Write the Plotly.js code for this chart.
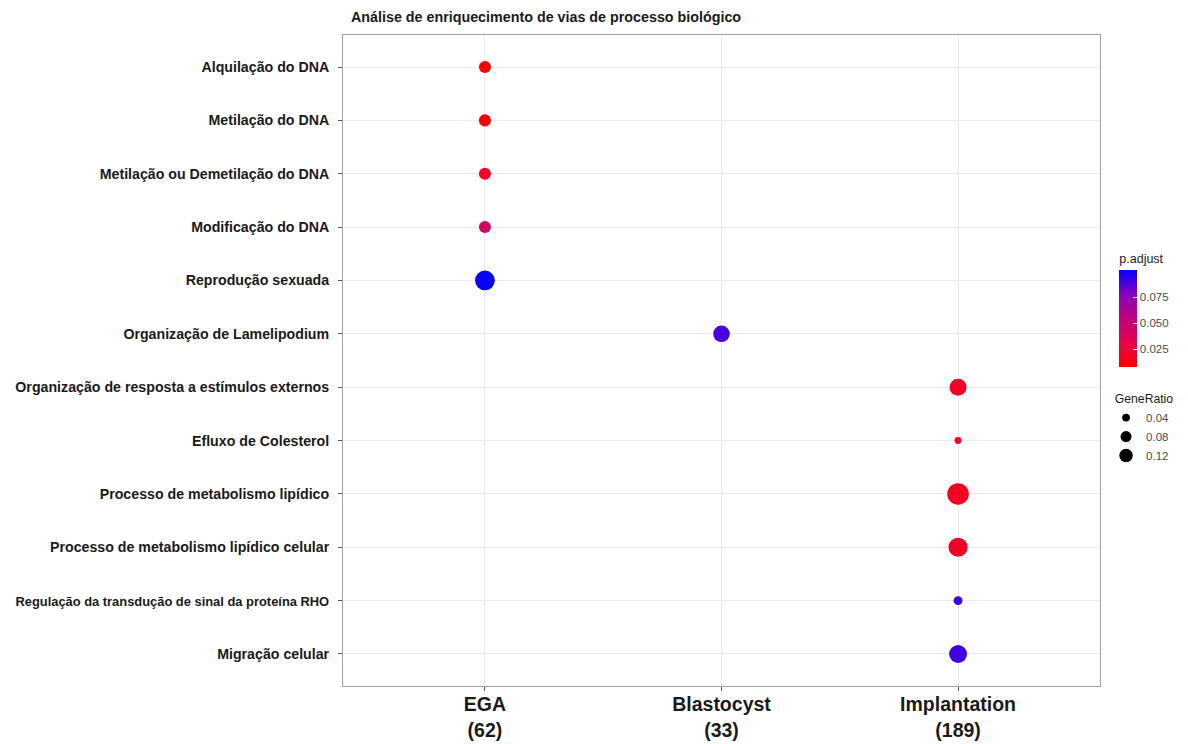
<!DOCTYPE html>
<html>
<head>
<meta charset="utf-8">
<script src="https://cdn.plot.ly/plotly-3.0.1.min.js"></script>
<style>html,body{margin:0;padding:0;background:#fff;}#chart{width:1188px;height:744px;}</style>
</head>
<body>
<div id="chart"></div>
<script>
// Stage categories (x axis)
const stages = ["EGA", "Blastocyst", "Implantation"];
const stageLabels = ["EGA<br>(62)", "Blastocyst<br>(33)", "Implantation<br>(189)"];

// Pathway terms (y axis, top to bottom)
const terms = [
  "Alquilação do DNA",
  "Metilação do DNA",
  "Metilação ou Demetilação do DNA",
  "Modificação do DNA",
  "Reprodução sexuada",
  "Organização de Lamelipodium",
  "Organização de resposta a estímulos externos",
  "Efluxo de Colesterol",
  "Processo de metabolismo lipídico",
  "Processo de metabolismo lipídico celular",
  "Regulação da transdução de sinal da proteína RHO",
  "Migração celular"
];

// Each point: stage, term, GeneRatio, p.adjust
const pointStage = ["EGA","EGA","EGA","EGA","EGA","Blastocyst","Implantation","Implantation","Implantation","Implantation","Implantation","Implantation"];
const pointTerm = terms.slice();
const geneRatio = [0.048, 0.048, 0.048, 0.048, 0.129, 0.091, 0.095, 0.016, 0.153, 0.122, 0.026, 0.106];
const pAdjust  = [0.008, 0.009, 0.020, 0.040, 0.100, 0.089, 0.018, 0.020, 0.018, 0.019, 0.091, 0.090];

// Size legend entries
const sizeLegendRatios = [0.04, 0.08, 0.12];
const colorTicks = [0.025, 0.050, 0.075];

const SIZEREF = 0.08 / 121; // diameter 11px at 0.08
const diam = v => Math.sqrt(v / SIZEREF);

const xIndex = pointStage.map(s => stages.indexOf(s));
const yIndex = pointTerm.map(t => terms.indexOf(t));

const FONT = 'Liberation Sans, Arial, sans-serif';

const colorscale = [
  [0, '#ff0000'], [0.25, '#e6004c'], [0.5, '#c0007f'], [0.75, '#8a00c0'], [1, '#0000ff']
];

const traces = [{
  type: 'scatter', mode: 'markers',
  x: xIndex, y: yIndex,
  showlegend: false,
  hoverinfo: 'skip',
  marker: {
    size: geneRatio, sizemode: 'area', sizeref: SIZEREF, sizemin: 1,
    opacity: 1,
    color: pAdjust, cmin: 0.0077, cmax: 0.101,
    colorscale: colorscale,
    line: {width: 0},
    colorbar: {
      title: {text: 'p.adjust', side: 'top', font: {family: FONT, size: 12.5, color: '#1a1a1a'}},
      thickness: 18, len: 116, lenmode: 'pixels',
      x: 1.0255, xanchor: 'left', y: 0.49, yanchor: 'bottom',
      xpad: 0, ypad: 0, outlinewidth: 0,
      tickvals: colorTicks, ticktext: colorTicks.map(v => v.toFixed(3)),
      ticks: 'inside', ticklen: 4, tickcolor: '#ffffff', tickwidth: 1,
      tickfont: {family: FONT, size: 11.5, color: '#4d4d4d'}
    }
  }
}];

sizeLegendRatios.forEach((r) => {
  traces.push({
    type: 'scatter', mode: 'markers',
    x: [null], y: [null],
    name: String(r),
    showlegend: true,
    marker: {size: diam(r), color: '#000000', line: {width: 0}}
  });
});

const tickText = terms.map(t => t.startsWith('Regulação') ? '<span style="font-size:12.9px">' + t + '</span>' : t);

const layout = {
  width: 1188, height: 744,
  paper_bgcolor: '#ffffff', plot_bgcolor: '#ffffff',
  margin: {l: 343, r: 88, t: 35, b: 58},
  font: {family: FONT, color: '#1a1a1a'},
  title: {
    text: '<b>Análise de enriquecimento de vias de processo biológico</b>',
    x: 351 / 1188, xanchor: 'left', xref: 'container',
    y: 1 - 17 / 744, yanchor: 'middle', yref: 'container',
    font: {family: FONT, size: 14.3, color: '#1a1a1a'}
  },
  xaxis: {
    range: [-0.6, 2.6],
    tickvals: stages.map((s, i) => i), ticktext: stageLabels.map(s => '<b>' + s + '</b>'),
    tickfont: {size: 19.5, color: '#1a1a1a', family: FONT},
    showgrid: true, gridcolor: '#ebebeb', gridwidth: 1,
    zeroline: false,
    showline: true, linecolor: '#a0a0a0', linewidth: 1, mirror: true,
    ticks: 'outside', ticklen: 4, tickcolor: '#555555',
    ticklabelstandoff: -3,
    fixedrange: true
  },
  yaxis: {
    range: [11.6, -0.6],
    tickvals: terms.map((t, i) => i), ticktext: tickText.map(t => '<b>' + t + '</b>'),
    tickfont: {size: 14.2, color: '#1a1a1a', family: FONT},
    showgrid: true, gridcolor: '#ebebeb', gridwidth: 1,
    zeroline: false,
    showline: true, linecolor: '#a0a0a0', linewidth: 1, mirror: true,
    ticks: 'outside', ticklen: 4, tickcolor: '#555555',
    ticklabelstandoff: 6,
    fixedrange: true
  },
  legend: {
    title: {text: '&nbsp;&nbsp;GeneRatio', font: {size: 12.2, color: '#1a1a1a'}},
    x: 1.008, xanchor: 'left', xref: 'paper',
    y: 0.459, yanchor: 'top',
    font: {size: 11.5, color: '#4d4d4d'},
    bgcolor: 'rgba(0,0,0,0)', borderwidth: 0,
    itemclick: false, itemdoubleclick: false
  },
  showlegend: true
};

Plotly.newPlot('chart', traces, layout, {displayModeBar: false, staticPlot: true});
</script>
</body>
</html>
